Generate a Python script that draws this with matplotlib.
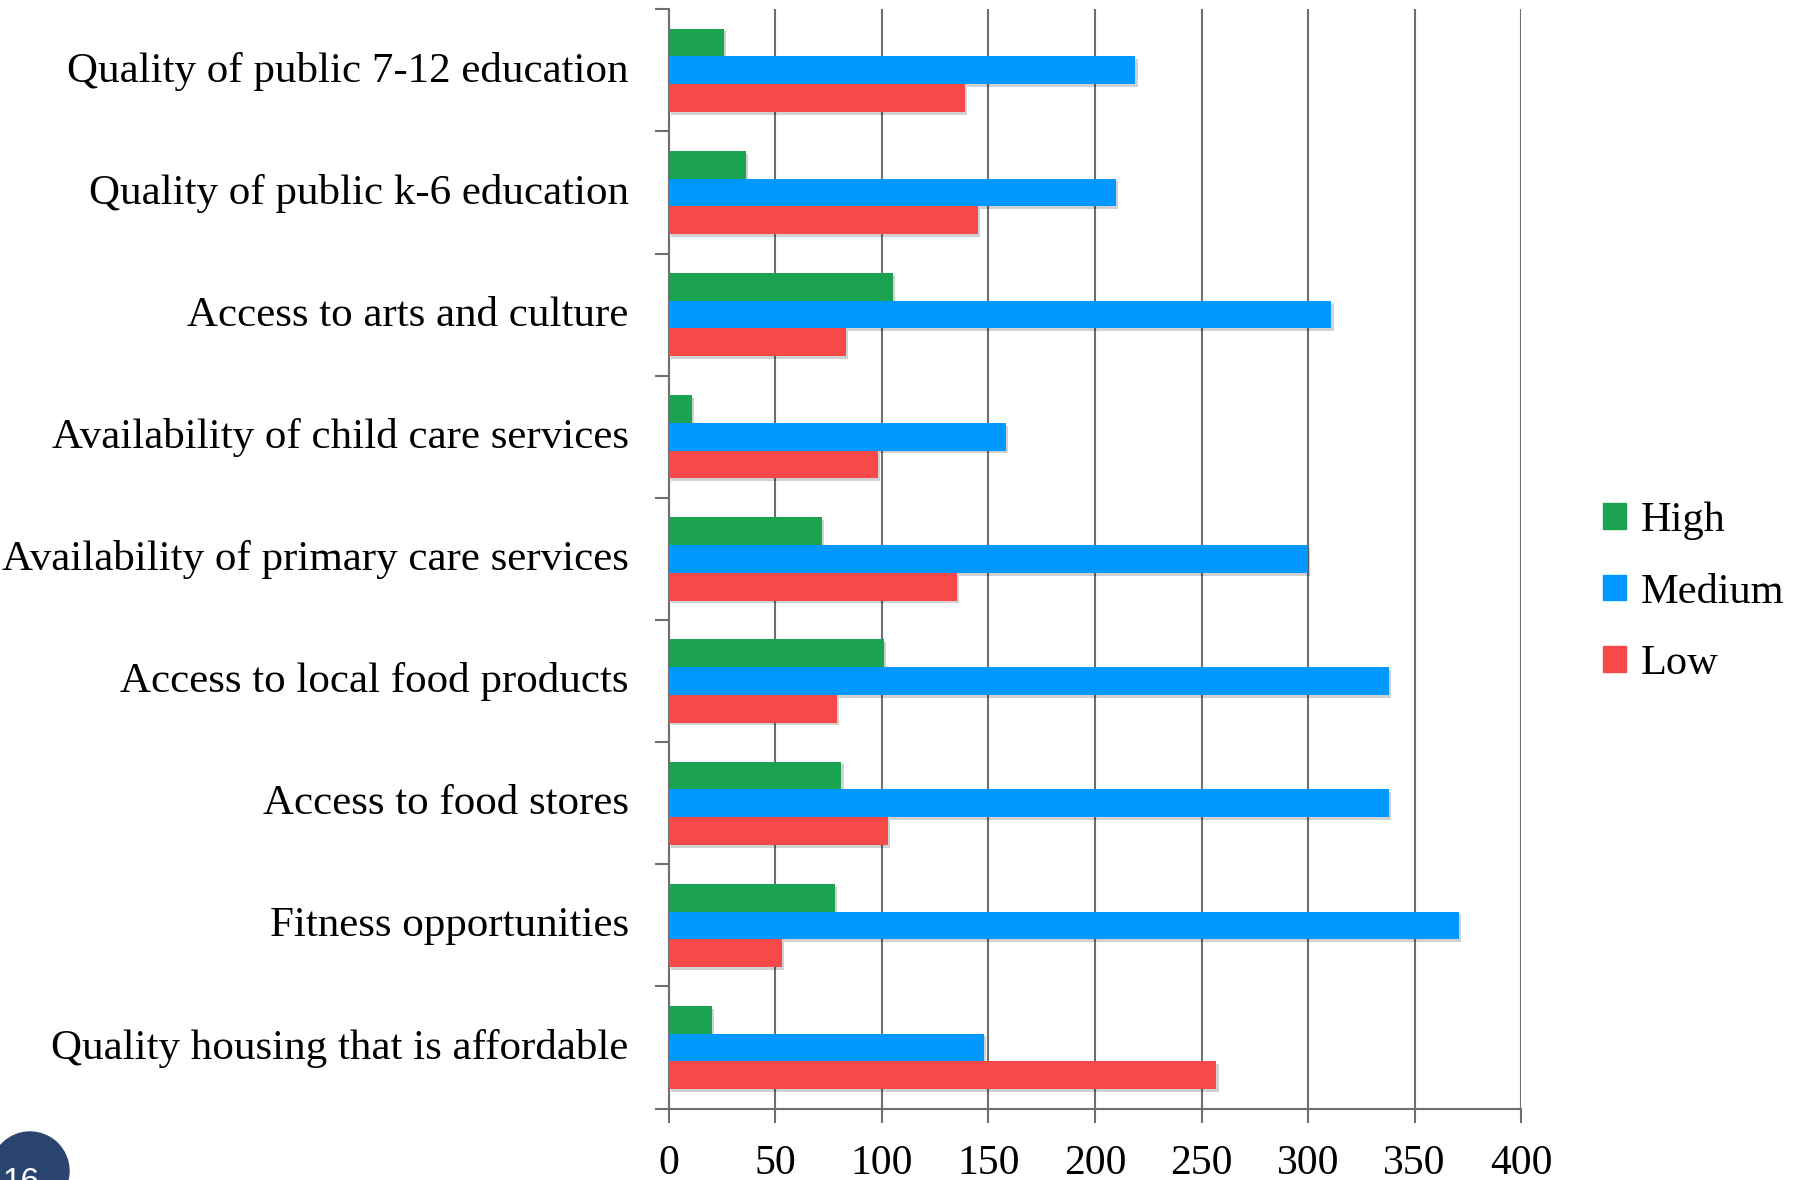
import numpy as np
import matplotlib.pyplot as plt
import matplotlib.patheffects as pe
from matplotlib.patches import Patch, Ellipse

categories = ['Quality of public 7-12 education',
              'Quality of public k-6 education',
              'Access to arts and culture',
              'Availability of child care services',
              'Availability of primary care services',
              'Access to local food products',
              'Access to food stores',
              'Fitness opportunities',
              'Quality housing that is affordable']
high = [26, 36, 105, 11, 72, 101, 81, 78, 20]
medium = [219, 210, 311, 158, 300, 338, 338, 371, 148]
low = [139, 145, 83, 98, 135, 79, 103, 53, 257]
series_names = ['High', 'Medium', 'Low']
colors = ['#1ca351', '#0099ff', '#f64a4a']
x_ticks = list(range(0, 401, 50))

plt.rcParams['font.family'] = ['Liberation Serif', 'DejaVu Serif']
grey = '#6e6e6e'

fig = plt.figure(figsize=(18.05, 11.8), dpi=100)
ax = fig.add_axes([0.3706, 0.0605, 0.4721, 0.9317])

n = len(categories)
pos = np.arange(n)[::-1]
h = 0.227
shadow = [pe.SimplePatchShadow(offset=(1.5, -2), shadow_rgbFace='k', alpha=0.18), pe.Normal()]
for k, (vals, name, c) in enumerate(zip([high, medium, low], series_names, colors)):
    bars = ax.barh(pos + (1 - k) * h, vals, height=h, color=c, label=name, zorder=3)
    for b in bars:
        b.set_path_effects(shadow)

ax.set_xlim(0, 400)
ax.set_ylim(-0.5, n - 0.5)
ax.set_xticks(x_ticks)
ax.set_xticklabels([str(t) for t in x_ticks])
ax.xaxis.grid(True, color=grey, lw=1.5, zorder=0)

ax.set_yticks(np.arange(-0.5, n, 1))
ax.set_yticklabels([])
ax.set_yticks(pos + 0.03, minor=True)
ax.set_yticklabels(categories, minor=True)
ax.tick_params(axis='y', which='major', length=10, width=1.5, color=grey)
ax.tick_params(axis='y', which='minor', length=0, pad=29, labelsize=31)
ax.tick_params(axis='x', length=10, width=1.5, color=grey, labelsize=30, pad=16)

for s in ['top', 'right']:
    ax.spines[s].set_visible(False)
for s in ['left', 'bottom']:
    ax.spines[s].set_color(grey)
    ax.spines[s].set_linewidth(1.5)

handles = [Patch(color=c) for c in colors]
fig.legend(handles, series_names, loc='center left', bbox_to_anchor=(0.867, 0.498),
           frameon=False, fontsize=30.5, handlelength=0.55, handleheight=0.55,
           handletextpad=0.35, labelspacing=0.78)

# page number badge
fig.patches.append(Ellipse((30 / 1805, 9 / 1180), 78 / 1805, 78 / 1180,
                           transform=fig.transFigure, color='#2a4470'))
fig.text(21 / 1805, 0.011, '16', color='white', fontsize=24,
         family='Liberation Sans', ha='center', va='top')

fig.savefig('out.png', dpi=100)
